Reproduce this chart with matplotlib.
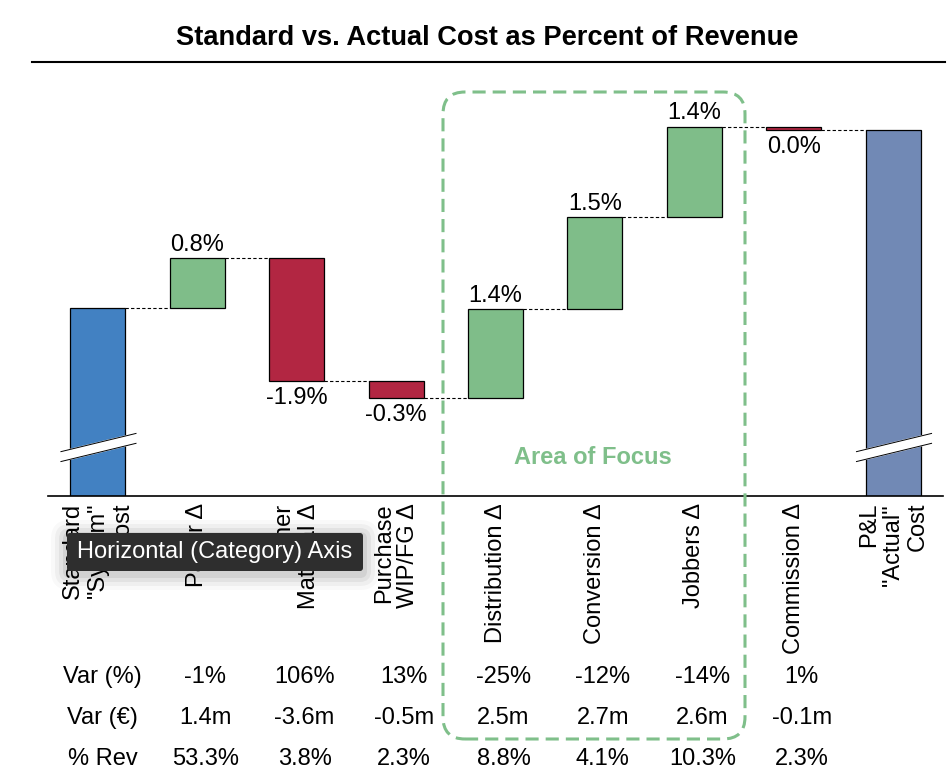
import matplotlib
matplotlib.use("Agg")
import matplotlib.pyplot as plt
from matplotlib.patches import FancyBboxPatch
from matplotlib.lines import Line2D
from matplotlib.transforms import IdentityTransform, blended_transform_factory

plt.rcParams['font.family'] = ['Liberation Sans', 'DejaVu Sans']

# ---------------- data ----------------
categories = ['Standard\n"System"\nCost', 'Paper Δ', 'Other\nMaterial Δ', 'Purchase\nWIP/FG Δ',
              'Distribution Δ', 'Conversion Δ', 'Jobbers Δ', 'Commission Δ', 'P&L\n"Actual"\nCost']
standard_cost = 82.05
deltas = [0.79, -1.94, -0.27, 1.40, 1.46, 1.43, -0.04]
row_labels = ['Var (%)', 'Var (€)', '% Rev']
var_pct = ['-1%', '106%', '13%', '-25%', '-12%', '-14%', '1%']
var_eur = ['1.4m', '-3.6m', '-0.5m', '2.5m', '2.7m', '2.6m', '-0.1m']
pct_rev = ['53.3%', '3.8%', '2.3%', '8.8%', '4.1%', '10.3%', '2.3%']
title = 'Standard vs. Actual Cost as Percent of Revenue'

# ---------------- style ----------------
C_START = '#4281C2'
C_END = '#7189B5'
C_POS = '#7FBD89'
C_NEG = '#B22642'
C_FOCUS = '#7FBF8A'
W, H = 952, 784
BW = 0.553
FS = 17

fig = plt.figure(figsize=(W / 100, H / 100), dpi=100)
px_per_pct = 63.05
ax_left, ax_right, ax_base, ax_top = 48, 943, 496, 100
ax = fig.add_axes([ax_left / W, (H - ax_base) / H, (ax_right - ax_left) / W, (ax_base - ax_top) / H])
y0 = standard_cost - (ax_base - 308) / px_per_pct
ax.set_ylim(y0, y0 + (ax_base - ax_top) / px_per_pct)
ax.set_xlim(-0.5, len(categories) - 0.5)
for s in ['top', 'right', 'left']:
    ax.spines[s].set_visible(False)
ax.spines['bottom'].set_linewidth(1.2)
ax.set_yticks([])

# start bar
ax.bar(0, standard_cost, width=BW, color=C_START, edgecolor='black', linewidth=0.9, zorder=2)
running = standard_cost
levels = [running]
for i, d in enumerate(deltas, start=1):
    bottom = running if d >= 0 else running + d
    ax.bar(i, abs(d), bottom=bottom, width=BW, color=C_POS if d >= 0 else C_NEG,
           edgecolor='black', linewidth=0.9, zorder=2)
    lab = f"{d:.1f}%"
    if lab == '-0.0%':
        lab = '0.0%'
    if d >= 0:
        ax.annotate(lab, (i, running + d), xytext=(0, 5.5), textcoords='offset points',
                    ha='center', va='baseline', fontsize=FS)
    else:
        ax.annotate(lab, (i, running + d), xytext=(0, -4.5), textcoords='offset points',
                    ha='center', va='top', fontsize=FS)
    running += d
    levels.append(running)
total = running
n = len(categories)
ax.bar(n - 1, total, width=BW, color=C_END, edgecolor='black', linewidth=0.9, zorder=2)

# connectors
for i, lv in enumerate(levels):
    ax.plot([i + BW / 2, i + 1 - BW / 2], [lv, lv], color='black', lw=0.8,
            linestyle=(0, (3, 2)), zorder=1)

# axis breaks
btr = blended_transform_factory(ax.transData, ax.transAxes)
for i in [0, n - 1]:
    xa, xb = i - 0.37, i + 0.385
    ax.fill([xa, xb, xb, xa], [0.087, 0.133, 0.158, 0.112], transform=btr,
            color='white', zorder=3, clip_on=False)
    ax.plot([xa, xb], [0.087, 0.133], transform=btr, color='black', lw=0.7, zorder=4, clip_on=False)
    ax.plot([xa, xb], [0.112, 0.158], transform=btr, color='black', lw=0.7, zorder=4, clip_on=False)

# tick labels
ax.set_xticks(range(n))
ax.set_xticklabels(categories, rotation=90, ha='center', va='top', multialignment='right',
                   fontsize=FS, linespacing=1.15)
ax.tick_params(axis='x', length=0, pad=5)

# table rows
row_y = [677, 718, 759]
rows = [var_pct, var_eur, pct_rev]
tt = blended_transform_factory(ax.transData, fig.transFigure)
for ry, rl, vals in zip(row_y, row_labels, rows):
    yf = 1 - ry / H
    ax.text(0.05, yf, rl, transform=tt, ha='center', va='center', fontsize=FS)
    for j, v in enumerate(vals, start=1):
        ax.text(j + 0.08, yf, v, transform=tt, ha='center', va='center', fontsize=FS)

# focus box (pixel coordinates)
idt = IdentityTransform()
focus = FancyBboxPatch((443, H - 739), 745 - 443, 739 - 92,
                       boxstyle='round,pad=0,rounding_size=22', transform=idt,
                       fill=False, edgecolor=C_FOCUS, linewidth=2.2,
                       linestyle=(0, (4.3, 2.3)), zorder=5)
fig.add_artist(focus)
fig.text(593 / W, 1 - 457 / H, 'Area of Focus', color=C_FOCUS, fontsize=FS,
         fontweight='bold', ha='center', va='center')

# title and rule
fig.text(487 / W, 1 - 38 / H, title, ha='center', va='center', fontsize=19.6, fontweight='bold')
fig.add_artist(Line2D([32 / W, 945 / W], [1 - 62 / H, 1 - 62 / H], color='black', lw=1.5,
                      transform=fig.transFigure))

# tooltip overlay
tx0, tx1, ty0, ty1 = 67, 363, 533, 571
for k, a in zip([16, 12, 8, 4], [0.025, 0.04, 0.05, 0.07]):
    fig.add_artist(FancyBboxPatch((tx0 - k, H - ty1 - k - 3), tx1 - tx0 + 2 * k, ty1 - ty0 + 2 * k,
                                  boxstyle=f'round,pad=0,rounding_size={k + 3}', transform=idt,
                                  facecolor='black', edgecolor='none', alpha=a, zorder=6))
fig.add_artist(FancyBboxPatch((tx0, H - ty1), tx1 - tx0, ty1 - ty0,
                              boxstyle='round,pad=0,rounding_size=3', transform=idt,
                              facecolor='#2E2E2E', edgecolor='none', zorder=7))
fig.text((tx0 + tx1) / 2 / W, 1 - (ty0 + ty1) / 2 / H, 'Horizontal (Category) Axis',
         color='white', fontsize=FS, ha='center', va='center', zorder=8)

fig.savefig('out.png', dpi=100)
